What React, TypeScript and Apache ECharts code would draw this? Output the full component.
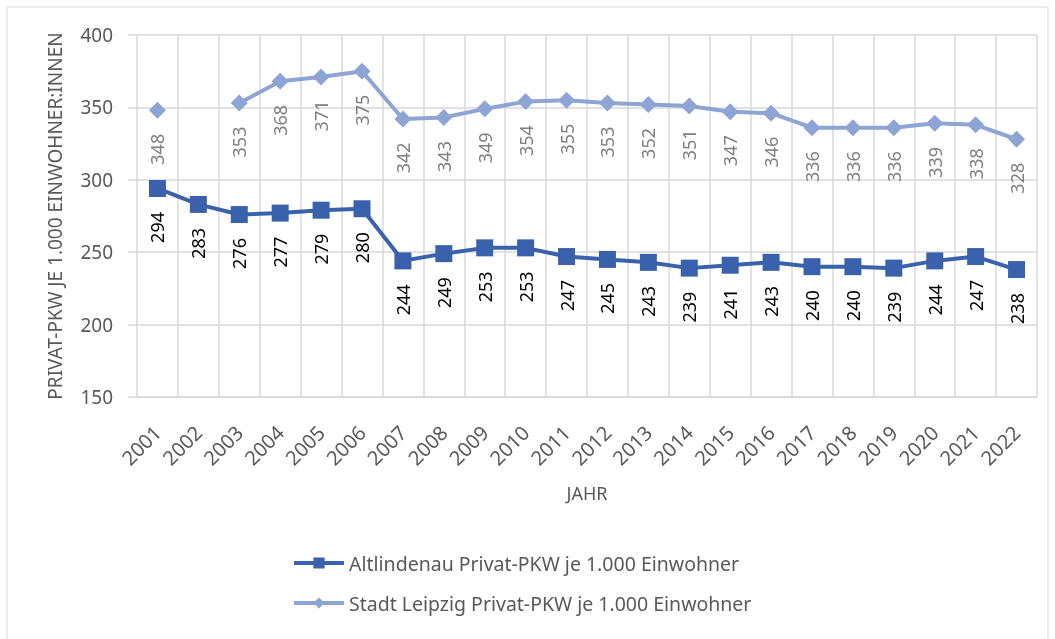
import React, { useEffect, useRef } from "react";
import * as echarts from "echarts";

const years = ["2001","2002","2003","2004","2005","2006","2007","2008","2009","2010","2011","2012","2013","2014","2015","2016","2017","2018","2019","2020","2021","2022"];
const altlindenau = [294, 283, 276, 277, 279, 280, 244, 249, 253, 253, 247, 245, 243, 239, 241, 243, 240, 240, 239, 244, 247, 238];
const leipzig = [348, null, 353, 368, 371, 375, 342, 343, 349, 354, 355, 353, 352, 351, 347, 346, 336, 336, 336, 339, 338, 328];
const seriesNames = ["Altlindenau Privat-PKW je 1.000 Einwohner", "Stadt Leipzig Privat-PKW je 1.000 Einwohner"];
const yTicks = { min: 150, max: 400, interval: 50 };

const FONT = "'Noto Sans', 'Open Sans', sans-serif";

export default function App() {
  const ref = useRef<HTMLDivElement>(null);
  useEffect(() => {
    if (!ref.current) return;
    const chart = echarts.init(ref.current, undefined, { renderer: "svg" });
    chart.setOption({
      animation: false,
      textStyle: { fontFamily: FONT },
      graphic: [
        { type: "rect", shape: { x: 7, y: 7, width: 1041, height: 640 }, style: { fill: "none", stroke: "#d9d9d9", lineWidth: 1 }, silent: true }
      ],
      grid: { left: 137, right: 18, top: 35, bottom: 242 },
      legend: {
        orient: "vertical",
        left: 287,
        top: 548,
        itemGap: 20,
        itemWidth: 50,
        itemHeight: 14,
        lineStyle: { width: 4 },
        textStyle: { color: "#595959", fontSize: 19.5, fontFamily: FONT },
        data: seriesNames,
      },
      xAxis: {
        type: "category",
        data: years,
        boundaryGap: true,
        name: "JAHR",
        nameLocation: "middle",
        nameGap: 87,
        nameTextStyle: { color: "#595959", fontSize: 18 },
        axisLine: { show: true, lineStyle: { color: "#d9d9d9", width: 1.5 } },
        axisTick: { show: false },
        axisLabel: { rotate: 45, color: "#595959", fontSize: 20, margin: 32, interval: 0 },
        splitLine: { show: true, lineStyle: { color: "#d9d9d9", width: 1.5 } },
      },
      yAxis: {
        type: "value",
        min: yTicks.min,
        max: yTicks.max,
        interval: yTicks.interval,
        name: "PRIVAT-PKW JE 1.000 EINWOHNER:INNEN",
        nameLocation: "middle",
        nameGap: 73,
        nameTextStyle: { color: "#595959", fontSize: 19 },
        axisLine: { show: false },
        axisTick: { show: true, length: 9, lineStyle: { color: "#d9d9d9", width: 1.5 } },
        axisLabel: { color: "#595959", fontSize: 19, margin: 24 },
        splitLine: { show: true, lineStyle: { color: "#d9d9d9", width: 1.5 } },
      },
      series: [
        {
          name: seriesNames[0],
          type: "line",
          data: altlindenau,
          symbol: "rect",
          symbolSize: 17,
          itemStyle: { color: "#3a62ac" },
          lineStyle: { color: "#3a62ac", width: 4 },
          label: {
            show: true,
            position: "bottom",
            distance: 15,
            rotate: 90,
            align: "right",
            verticalAlign: "middle",
            color: "#000000",
            fontSize: 18,
          },
          z: 3,
        },
        {
          name: seriesNames[1],
          type: "line",
          data: leipzig,
          connectNulls: false,
          symbol: "diamond",
          symbolSize: 17,
          itemStyle: { color: "#8ea4d5" },
          lineStyle: { color: "#8ea4d5", width: 4 },
          label: {
            show: true,
            position: "bottom",
            distance: 15,
            rotate: 90,
            align: "right",
            verticalAlign: "middle",
            color: "#7f7f7f",
            fontSize: 18,
          },
          z: 2,
        },
      ],
    });
    return () => chart.dispose();
  }, []);
  return <div ref={ref} style={{ position: "fixed", left: 0, top: 0, width: 1055, height: 639 }} />;
}
